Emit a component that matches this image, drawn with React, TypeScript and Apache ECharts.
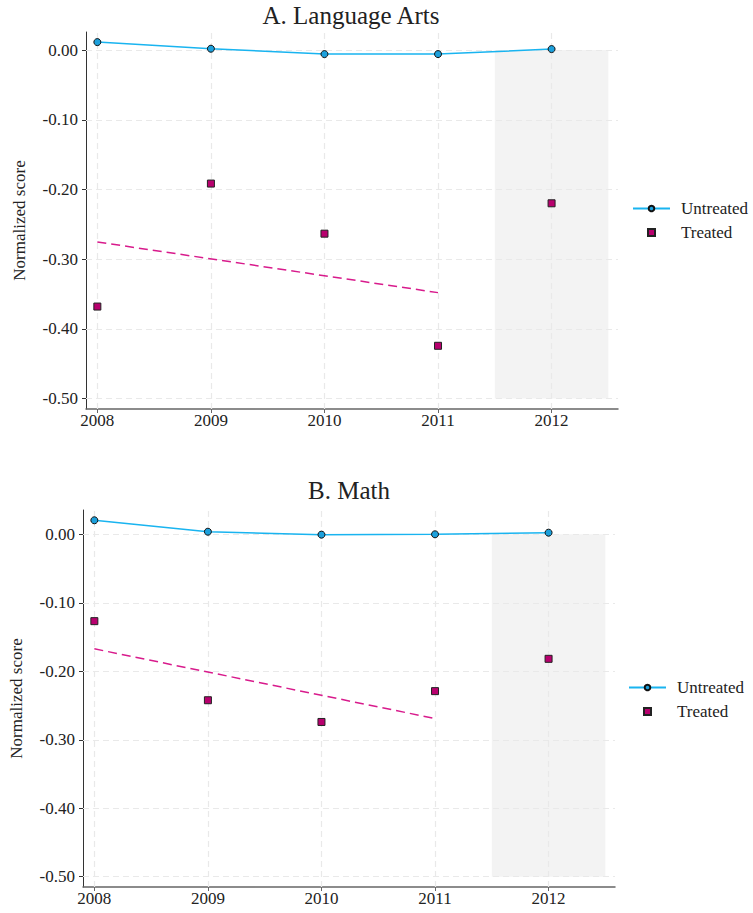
import React, { useEffect, useRef } from "react";
import * as echarts from "echarts";

const years = [2008, 2009, 2010, 2011, 2012];
const trendYears = [2008, 2011];
const yTicks = [0, -0.1, -0.2, -0.3, -0.4, -0.5];
const shadeX = [2011.5, 2012.5];
const shadeY = [0, -0.5];

const laUntreated = [0.0115, 0.002, -0.0057, -0.0057, 0.0015];
const laTreated = [-0.368, -0.1915, -0.2634, -0.4243, -0.2198];
const laTrend = [-0.2753, -0.348];

const mathUntreated = [0.0205, 0.0038, -0.0005, 0.0, 0.0024];
const mathTreated = [-0.1268, -0.2423, -0.274, -0.229, -0.1818];
const mathTrend = [-0.1672, -0.269];

const FONT = "Liberation Serif";
const TXT = "#222";
const BLUE_LINE = "#19b4f0";
const BLUE_FILL = "#1ca0dc";
const MAG_FILL = "#b8006e";
const MAG_LINE = "#d81b8c";
const GRIDC = "#e9e9e9";

function pairs(xs: number[], ys: number[]) {
  return xs.map((x, i) => [x, ys[i]]);
}

function makeAxes(idx: number, yMax: number) {
  const xAxis = {
    type: "value",
    gridIndex: idx,
    min: 2007.9,
    max: 2012.585,
    axisLine: { show: true, onZero: false, lineStyle: { color: "#666", width: 1.5 } },
    axisTick: { show: true, customValues: years, length: 4, lineStyle: { color: "#666" } },
    axisLabel: {
      customValues: years,
      formatter: (v: number) => String(v),
      margin: 3,
      fontSize: 17,
      fontFamily: FONT,
      color: TXT,
    },
    splitLine: { show: false },
  };
  const yAxis = {
    type: "value",
    gridIndex: idx,
    min: -0.515,
    max: yMax,
    name: "Normalized score",
    nameLocation: "middle",
    nameRotate: 90,
    nameGap: 58,
    nameTextStyle: { fontSize: 17, fontFamily: FONT, color: TXT },
    axisLine: { show: true, onZero: false, lineStyle: { color: "#333", width: 1 } },
    axisTick: { show: true, customValues: yTicks, length: 4, lineStyle: { color: "#333" } },
    axisLabel: {
      customValues: yTicks,
      formatter: (v: number) => (Math.abs(v) < 1e-9 ? "0.00" : v.toFixed(2)),
      margin: 8,
      fontSize: 17,
      fontFamily: FONT,
      color: TXT,
    },
    splitLine: { show: false },
  };
  return { xAxis, yAxis };
}

function makeSeries(idx: number, untreated: number[], treated: number[], trend: number[]) {
  return [
    {
      name: "Untreated",
      type: "line",
      xAxisIndex: idx,
      yAxisIndex: idx,
      data: pairs(years, untreated),
      symbol: "circle",
      symbolSize: 7,
      lineStyle: { color: BLUE_LINE, width: 1.5 },
      itemStyle: { color: BLUE_FILL, borderColor: "#111", borderWidth: 1 },
      z: 4,
      markArea: {
        silent: true,
        z: 0,
        itemStyle: { color: "#f3f3f3" },
        data: [[{ xAxis: shadeX[0], yAxis: shadeY[0] }, { xAxis: shadeX[1], yAxis: shadeY[1] }]],
      },
      markLine: {
        silent: true,
        z: 1,
        symbol: "none",
        label: { show: false },
        lineStyle: { color: GRIDC, type: [6, 4], width: 1.2 },
        data: [
          ...years.map((y) => ({ xAxis: y })),
          ...yTicks.map((v) => ({ yAxis: v })),
        ],
      },
    },
    {
      name: "Treated",
      type: "scatter",
      xAxisIndex: idx,
      yAxisIndex: idx,
      data: pairs(years, treated),
      symbol: "rect",
      symbolSize: 7,
      symbolKeepAspect: true,
      itemStyle: { color: MAG_FILL, borderColor: "#222", borderWidth: 1, opacity: 1 },
      z: 5,
    },
    {
      name: "trend" + idx,
      type: "line",
      xAxisIndex: idx,
      yAxisIndex: idx,
      data: pairs(trendYears, trend),
      symbol: "none",
      lineStyle: { color: MAG_LINE, width: 1.5, type: [9, 5] },
      z: 3,
    },
  ];
}

export default function App() {
  const ref = useRef<HTMLDivElement>(null);
  useEffect(() => {
    document.body.style.margin = "0";
    if (!ref.current) return;
    const chart = echarts.init(ref.current, undefined, { renderer: "svg" });
    const a0 = makeAxes(0, 0.026);
    const a1 = makeAxes(1, 0.0355);
    const legendBase = {
      orient: "vertical",
      padding: 0,
      itemWidth: 37,
      itemHeight: 7,
      itemGap: 7,
      symbolKeepAspect: true,
      data: [
        { name: "Untreated" },
        { name: "Treated", icon: "path://M0,0 L1,0 L1,1 L0,1 Z" },
      ],
      selectedMode: false,
      textStyle: { fontSize: 17, fontFamily: FONT, color: TXT, padding: [0, 0, 0, 6] },
    };
    chart.setOption({
      animation: false,
      backgroundColor: "#fff",
      textStyle: { fontFamily: FONT },
      title: [
        {
          text: "A. Language Arts",
          left: 346,
          top: -2,
          textAlign: "center",
          textStyle: { fontSize: 25, fontWeight: "normal", fontFamily: FONT, color: TXT },
        },
        {
          text: "B. Math",
          left: 344,
          top: 473,
          textAlign: "center",
          textStyle: { fontSize: 25, fontWeight: "normal", fontFamily: FONT, color: TXT },
        },
      ],
      legend: [
        { ...legendBase, left: 632, top: 200 },
        { ...legendBase, left: 628, top: 679 },
      ],
      grid: [
        { left: 86, top: 32, width: 532, height: 377, containLabel: false },
        { left: 83, top: 510, width: 532, height: 377, containLabel: false },
      ],
      xAxis: [a0.xAxis, a1.xAxis],
      yAxis: [a0.yAxis, a1.yAxis],
      series: [
        ...makeSeries(0, laUntreated, laTreated, laTrend),
        ...makeSeries(1, mathUntreated, mathTreated, mathTrend),
      ],
    });
    return () => chart.dispose();
  }, []);
  return <div ref={ref} style={{ width: 753, height: 913 }} />;
}
